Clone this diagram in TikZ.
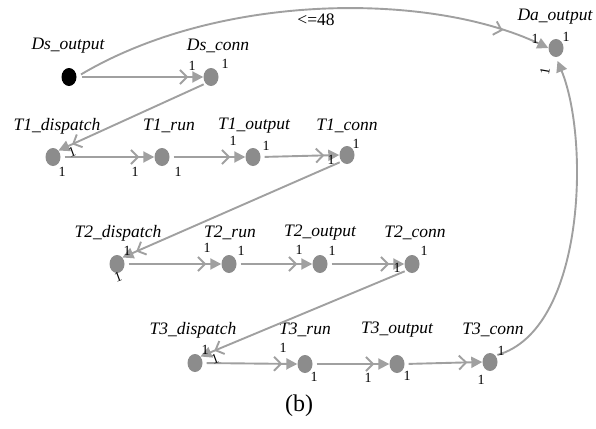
\documentclass[tikz,border=0pt]{standalone}
\usepackage{fontspec}
\setmainfont{Liberation Serif}
\usetikzlibrary{arrows.meta,decorations.markings,shapes.geometric}
\definecolor{dotgray}{RGB}{140,140,140}
\definecolor{linegray}{RGB}{160,160,160}
\tikzset{
  place/.style={ellipse,fill=dotgray,draw=none,minimum width=15pt,minimum height=18pt,inner sep=0pt},
  srcplace/.style={ellipse,fill=black,draw=none,minimum width=15pt,minimum height=18pt,inner sep=0pt},
  lbl/.style={font=\fontsize{17.5}{17.5}\selectfont\itshape,inner sep=0pt},
  num/.style={font=\fontsize{14}{14}\selectfont,inner sep=0pt},
  arc/.style={draw=linegray,line width=1.9pt,
    -{Straight Barb[length=7pt,width=14pt,sep=4pt]Triangle[length=11pt,width=11pt]}},
  arcplain/.style={draw=linegray,line width=1.9pt,-{Triangle[length=11pt,width=11pt]}},
  vmark/.style={postaction={decorate},decoration={markings,
    mark=at position #1 with {\arrow[linegray,line width=1.9pt]{Straight Barb[length=7pt,width=14pt]}}}}
}
\begin{document}
\begin{tikzpicture}[x=1pt,y=-1pt]
\useasboundingbox (0,0) rectangle (596,428);
% places
\node[srcplace] (dso) at (69,77) {};
\node[place] (dsc) at (211,77) {};
\node[place] (dao) at (556,48) {};
\node[place] (t1d) at (53,157) {};
\node[place] (t1r) at (162,157) {};
\node[place] (t1o) at (253,157) {};
\node[place] (t1c) at (347,155) {};
\node[place] (t2d) at (117,264) {};
\node[place] (t2r) at (229,264) {};
\node[place] (t2o) at (320,264) {};
\node[place] (t2c) at (412,264) {};
\node[place] (t3d) at (195,363) {};
\node[place] (t3r) at (305,364) {};
\node[place] (t3o) at (397,364) {};
\node[place] (t3c) at (490,362) {};
% names
\node[lbl] (ldso) at (68,46) {Ds\_output};
\node[lbl] (ldsc) at (218,46) {Ds\_conn};
\node[lbl] (ldao) at (555,17) {Da\_output};
\node[lbl] (lt1d) at (57,126) {T1\_dispatch};
\node[lbl] (lt1r) at (169,126) {T1\_run};
\node[lbl] (lt1o) at (254,126) {T1\_output};
\node[lbl] (lt1c) at (347,126) {T1\_conn};
\node[lbl] (lt2d) at (118,233) {T2\_dispatch};
\node[lbl] (lt2r) at (230,233) {T2\_run};
\node[lbl] (lt2o) at (320,233) {T2\_output};
\node[lbl] (lt2c) at (415,233) {T2\_conn};
\node[lbl] (lt3d) at (193,330) {T3\_dispatch};
\node[lbl] (lt3r) at (305,330) {T3\_run};
\node[lbl] (lt3o) at (397,330) {T3\_output};
\node[lbl] (lt3c) at (493,330) {T3\_conn};
% arcs
\draw[arc,shorten <=5pt] (dso.east) -- (dsc.west);
\draw[arcplain,shorten <=5pt,vmark=0.9] (dso.east) .. controls (220,-8) and (430,-8) .. (dao.west);
\draw[arc,shorten <=2pt] (dsc.south west) -- (t1d.north east);
\draw[arc,shorten <=4pt] (t1d.east) -- (t1r.west);
\draw[arc,shorten <=4pt] (t1r.east) -- (t1o.west);
\draw[arc,shorten <=4pt] (t1o.east) -- (t1c.west);
\draw[arc,shorten <=2pt] (t1c.south west) -- (t2d.north east);
\draw[arc,shorten <=4pt] (t2d.east) -- (t2r.west);
\draw[arc,shorten <=4pt] (t2r.east) -- (t2o.west);
\draw[arc,shorten <=4pt] (t2o.east) -- (t2c.west);
\draw[arc,shorten <=2pt] (t2c.south west) -- (t3d.north east);
\draw[arc,shorten <=4pt] (t3d.east) -- (t3r.west);
\draw[arc,shorten <=4pt] (t3r.east) -- (t3o.west);
\draw[arc,shorten <=4pt] (t3o.east) -- (t3c.west);
\draw[arcplain,shorten <=2pt,shorten >=4pt] (t3c.north east) .. controls (585,330) and (590,140) .. (dao.south);
% guard label
\node[font=\fontsize{17.5}{17.5}\selectfont,inner sep=0pt] (g) at (316,20) {<=48};
% weights
\node[num] at (192,66) {1};
\node[num] at (225,64) {1};
\node[num] at (535,39) {1};
\node[num] at (566,37) {1};
\node[num,rotate=80] at (545,71) {1};
\node[num] at (62,172) {1};
\node[num,rotate=20] at (72,152) {1};
\node[num] at (135,172) {1};
\node[num] at (178,172) {1};
\node[num] at (233,141) {1};
\node[num] at (266,146) {1};
\node[num] at (331,160) {1};
\node[num] at (356,144) {1};
\node[num] at (127,251) {1};
\node[num,rotate=20] at (118,277) {1};
\node[num] at (207,248) {1};
\node[num] at (241,251) {1};
\node[num] at (299,250) {1};
\node[num] at (332,251) {1};
\node[num] at (397,268) {1};
\node[num] at (424,251) {1};
\node[num] at (205,350) {1};
\node[num,rotate=20] at (215,359) {1};
\node[num] at (283,348) {1};
\node[num] at (314,377) {1};
\node[num] at (368,378) {1};
\node[num] at (407,376) {1};
\node[num] at (481,380) {1};
\node[num] at (501,351) {1};
% caption
\node[font=\fontsize{24}{24}\selectfont,inner sep=0pt] (cap) at (299,406) {(b)};
\end{tikzpicture}
\end{document}
